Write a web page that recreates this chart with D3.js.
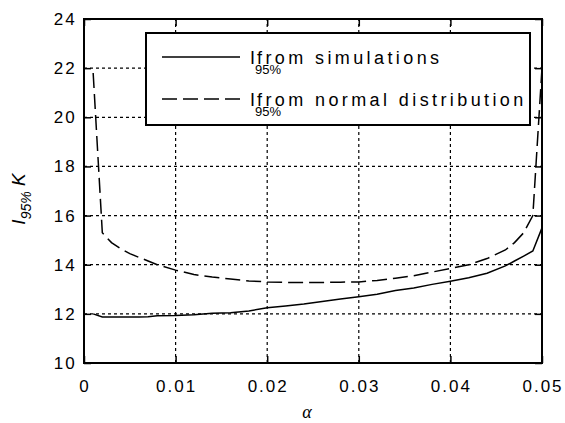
<!DOCTYPE html>
<html>
<head>
<meta charset="utf-8">
<script src="https://cdn.jsdelivr.net/npm/d3@7"></script>
<style>
body { margin: 0; background: #fff; }
text { font-family: "Liberation Sans", Arial, sans-serif; fill: #000; }
</style>
</head>
<body>
<svg class="view" width="565" height="423"></svg>
<script>
/* global d3 */

// significance levels on the x axis
var alpha = [0.001, 0.002, 0.003, 0.004, 0.005, 0.006, 0.007, 0.008, 0.010, 0.012,
    0.014, 0.016, 0.018, 0.020, 0.022, 0.024, 0.026, 0.028, 0.030, 0.032,
    0.034, 0.036, 0.038, 0.040, 0.042, 0.044, 0.046, 0.047, 0.048, 0.049, 0.050];

// I95% from simulations
var simulated = [12.0, 11.87, 11.87, 11.87, 11.87, 11.87, 11.88, 11.92, 11.93, 11.96,
    12.02, 12.05, 12.12, 12.25, 12.32, 12.4, 12.5, 12.6, 12.7, 12.8,
    12.95, 13.05, 13.2, 13.33, 13.47, 13.65, 13.95, 14.15, 14.35, 14.56, 15.5];

// I95% from normal distribution
var normal = [21.8, 15.3, 14.9, 14.65, 14.45, 14.3, 14.15, 14.0, 13.78, 13.6,
    13.5, 13.42, 13.34, 13.3, 13.28, 13.28, 13.28, 13.29, 13.3, 13.36,
    13.45, 13.55, 13.7, 13.85, 14.0, 14.25, 14.6, 14.9, 15.3, 16.0, 22.0];

var xTicks = [0, 0.01, 0.02, 0.03, 0.04, 0.05];
var xTickLabels = ['0', '0.01', '0.02', '0.03', '0.04', '0.05'];
var yTicks = [10, 12, 14, 16, 18, 20, 22, 24];

var legendLabels = ['from simulations', 'from normal distribution'];

var svg = d3.select('.view'),
    plotLeft = 84, plotRight = 542, plotTop = 19, plotBottom = 363;

var x = d3.scaleLinear().domain([0, 0.05]).range([plotLeft, plotRight]);
var y = d3.scaleLinear().domain([10, 24]).range([plotBottom, plotTop]);

// grid
var grid = svg.append('g')
    .attr('stroke', '#000')
    .attr('stroke-width', 1.2)
    .attr('stroke-dasharray', '3,3');
grid.selectAll('.gx')
    .data(xTicks.slice(1, -1))
    .enter().append('line')
    .attr('x1', function (d) { return x(d); })
    .attr('x2', function (d) { return x(d); })
    .attr('y1', plotBottom)
    .attr('y2', plotTop);
grid.selectAll('.gy')
    .data(yTicks.slice(1, -1))
    .enter().append('line')
    .attr('x1', plotLeft)
    .attr('x2', plotRight)
    .attr('y1', function (d) { return y(d); })
    .attr('y2', function (d) { return y(d); });

// axes with inward ticks on all sides
var tickLen = 7;
svg.append('g')
    .attr('transform', 'translate(0,' + plotBottom + ')')
    .call(d3.axisBottom(x).tickValues(xTicks).tickSizeInner(-tickLen).tickSizeOuter(0).tickFormat(''));
svg.append('g')
    .attr('transform', 'translate(0,' + plotTop + ')')
    .call(d3.axisTop(x).tickValues(xTicks).tickSizeInner(-tickLen).tickSizeOuter(0).tickFormat(''));
svg.append('g')
    .attr('transform', 'translate(' + plotLeft + ',0)')
    .call(d3.axisLeft(y).tickValues(yTicks).tickSizeInner(-tickLen).tickSizeOuter(0).tickFormat(''));
svg.append('g')
    .attr('transform', 'translate(' + plotRight + ',0)')
    .call(d3.axisRight(y).tickValues(yTicks).tickSizeInner(-tickLen).tickSizeOuter(0).tickFormat(''));
svg.selectAll('.tick line').attr('stroke', '#000').attr('stroke-width', 1.5);
svg.selectAll('.domain').remove();

// curves
var line = d3.line()
    .x(function (d) { return x(d[0]); })
    .y(function (d) { return y(d[1]); });

svg.append('path')
    .datum(alpha.map(function (a, i) { return [a, simulated[i]]; }))
    .attr('d', line)
    .attr('fill', 'none')
    .attr('stroke', '#000')
    .attr('stroke-width', 1.5);

svg.append('path')
    .datum(alpha.map(function (a, i) { return [a, normal[i]]; }))
    .attr('d', line)
    .attr('fill', 'none')
    .attr('stroke', '#000')
    .attr('stroke-width', 1.5)
    .attr('stroke-dasharray', '15,6');

svg.append('rect')
    .attr('x', plotLeft)
    .attr('y', plotTop)
    .attr('width', plotRight - plotLeft)
    .attr('height', plotBottom - plotTop)
    .attr('fill', 'none')
    .attr('stroke', '#000')
    .attr('stroke-width', 2);

// tick labels
svg.selectAll('.xl')
    .data(xTicks)
    .enter().append('text')
    .attr('x', function (d) { return x(d) + 1; })
    .attr('y', 392)
    .attr('text-anchor', 'middle')
    .style('font-size', '17px')
    .style('letter-spacing', '2px')
    .text(function (d, i) { return xTickLabels[i]; });

svg.selectAll('.yl')
    .data(yTicks)
    .enter().append('text')
    .attr('x', 77)
    .attr('y', function (d) { return y(d) + 6; })
    .attr('text-anchor', 'end')
    .style('font-size', '17px')
    .style('letter-spacing', '2.2px')
    .text(function (d) { return d; });

// legend
var legend = svg.append('g');
legend.append('rect')
    .attr('x', 146)
    .attr('y', 33)
    .attr('width', 384)
    .attr('height', 92)
    .attr('fill', '#fff')
    .attr('stroke', '#000')
    .attr('stroke-width', 2);

var legendRows = [57, 99];
legendRows.forEach(function (ly, i) {
    legend.append('line')
        .attr('x1', 162)
        .attr('x2', 240)
        .attr('y1', ly)
        .attr('y2', ly)
        .attr('stroke', '#000')
        .attr('stroke-width', 1.5)
        .attr('stroke-dasharray', i === 1 ? '15,6' : null);
    var t = legend.append('text')
        .attr('x', 250)
        .attr('y', ly + 7)
        .style('font-size', '18px');
    t.append('tspan').text('I');
    t.append('tspan')
        .attr('dy', 10)
        .style('font-size', '13px')
        .text('95%');
    t.append('tspan')
        .attr('x', 257)
        .attr('dy', -10)
        .style('letter-spacing', '3.4px')
        .text(legendLabels[i]);
});

// axis titles
var yt = svg.append('text')
    .attr('transform', 'translate(25,199) rotate(-90)')
    .attr('text-anchor', 'middle')
    .style('font-style', 'italic')
    .style('font-size', '19px');
yt.append('tspan').text('I');
yt.append('tspan').attr('dy', 6).style('font-size', '14px').text('95%');
yt.append('tspan').attr('dy', -6).text(' K');

svg.append('text')
    .attr('x', 307)
    .attr('y', 418)
    .attr('text-anchor', 'middle')
    .style('font-family', '"Liberation Serif", serif')
    .style('font-style', 'italic')
    .style('font-size', '18px')
    .text('α');
</script>
</body>
</html>
